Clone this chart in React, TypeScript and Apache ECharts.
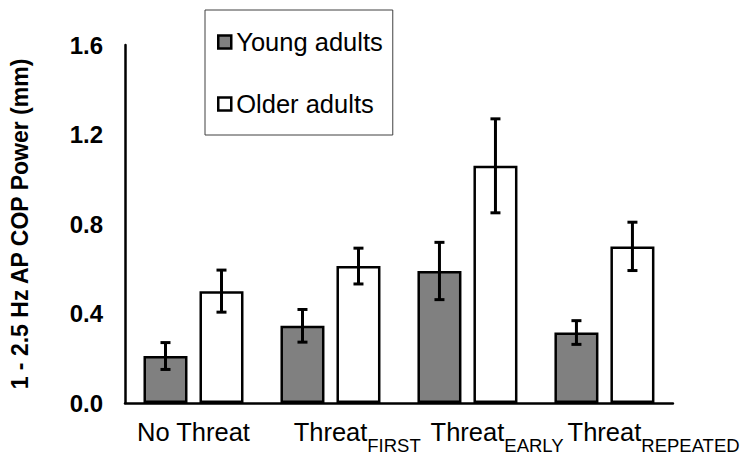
import React, { useEffect, useRef } from "react";
import * as echarts from "echarts";

const mainLabels = ["No Threat", "Threat", "Threat", "Threat"];
const subLabels = ["", "FIRST", "EARLY", "REPEATED"];
const youngValues = [0.21, 0.345, 0.59, 0.315];
const youngErrors = [0.06, 0.073, 0.128, 0.053];
const olderValues = [0.5, 0.612, 1.06, 0.7];
const olderErrors = [0.094, 0.08, 0.21, 0.108];
const yTicks = [0, 0.4, 0.8, 1.2, 1.6];
const seriesNames = ["Young adults", "Older adults"];

const FONT = '"Liberation Sans", Arial, sans-serif';
const SUB_SIZE = 18.5;
const MAIN_SIZE = 25.5;

function measure(text: string, size: number): number {
  const c = document.createElement("canvas").getContext("2d");
  if (!c) return text.length * size * 0.65;
  c.font = `${size}px ${FONT}`;
  return c.measureText(text).width;
}

export default function App() {
  const ref = useRef<HTMLDivElement>(null);
  useEffect(() => {
    if (!ref.current) return;
    const chart = echarts.init(ref.current, undefined, { renderer: "svg" });
    const categories = mainLabels.map((m, i) => (subLabels[i] ? `${m}_${subLabels[i]}` : m));
    const rich: any = {
      a: { fontSize: MAIN_SIZE, fontFamily: FONT, color: "#000", lineHeight: 28, verticalAlign: "top" },
      b: { fontSize: SUB_SIZE, fontFamily: FONT, color: "#000", lineHeight: 20, padding: [17, 0, 0, 0], verticalAlign: "top" },
    };
    subLabels.forEach((s, i) => {
      rich["p" + i] = { width: s ? measure(s, SUB_SIZE) : 0, lineHeight: 28, verticalAlign: "top" };
    });
    const barW = 44;
    const gap = 12;
    const offset = (barW + gap) / 2;
    const errSeries = (vals: number[], errs: number[], dir: number, name: string) => ({
      type: "custom",
      name: name + "_err",
      z: 5,
      silent: true,
      data: vals.map((v, i) => [i, v, errs[i]]),
      encode: { x: 0, y: 1 },
      renderItem: (params: any, api: any) => {
        const i = api.value(0);
        const v = api.value(1);
        const e = api.value(2);
        const hi = api.coord([i, v + e]);
        const lo = api.coord([i, v - e]);
        const x = hi[0] + dir * offset;
        const cap = 5;
        const st = { stroke: "#000", lineWidth: 3 };
        return {
          type: "group",
          children: [
            { type: "line", shape: { x1: x, y1: hi[1], x2: x, y2: lo[1] }, style: st },
            { type: "line", shape: { x1: x - cap, y1: hi[1], x2: x + cap, y2: hi[1] }, style: st },
            { type: "line", shape: { x1: x - cap, y1: lo[1], x2: x + cap, y2: lo[1] }, style: st },
          ],
        };
      },
    });
    chart.setOption({
      animation: false,
      backgroundColor: "#fff",
      textStyle: { fontFamily: FONT },
      grid: { left: 124, right: 65, top: 45, bottom: 55, containLabel: false },
      legend: {
        data: seriesNames,
        orient: "vertical",
        left: 205,
        top: 10,
        backgroundColor: "#fff",
        borderColor: "#404040",
        borderWidth: 1,
        borderRadius: 0,
        padding: [19, 10, 18, 12],
        itemGap: 36,
        itemWidth: 13,
        itemHeight: 13,
        icon: "rect",
        itemStyle: { borderColor: "#000", borderWidth: 2.5 },
        textStyle: { fontSize: MAIN_SIZE, color: "#000", fontFamily: FONT },
      },
      xAxis: {
        type: "category",
        data: categories,
        axisLine: { lineStyle: { color: "#000", width: 2.5 } },
        axisTick: { show: false },
        axisLabel: {
          interval: 0,
          margin: 16,
          formatter: (_v: string, idx: number) =>
            subLabels[idx]
              ? `{p${idx}|}{a|${mainLabels[idx]}}{b|${subLabels[idx]}}`
              : `{a|${mainLabels[idx]}}`,
          rich,
        },
      },
      yAxis: {
        type: "value",
        min: yTicks[0],
        max: yTicks[yTicks.length - 1],
        interval: yTicks[1] - yTicks[0],
        name: "1 - 2.5 Hz AP COP Power (mm)",
        nameLocation: "middle",
        nameRotate: 90,
        nameGap: 94,
        nameTextStyle: { fontSize: 23, fontWeight: "bold", color: "#000", fontFamily: FONT },
        axisLine: { show: true, lineStyle: { color: "#000", width: 2.5 } },
        axisTick: { show: false },
        splitLine: { show: false },
        axisLabel: {
          margin: 22,
          fontSize: 24,
          fontWeight: "bold",
          color: "#000",
          fontFamily: FONT,
          formatter: (v: number) => v.toFixed(1),
        },
      },
      series: [
        {
          type: "bar",
          name: seriesNames[0],
          data: youngValues,
          barWidth: barW,
          barGap: `${(gap / barW) * 100}%`,
          itemStyle: { color: "#808080", borderColor: "#000", borderWidth: 2.5 },
        },
        {
          type: "bar",
          name: seriesNames[1],
          data: olderValues,
          barWidth: barW,
          barGap: `${(gap / barW) * 100}%`,
          itemStyle: { color: "#fff", borderColor: "#000", borderWidth: 2.5 },
        },
        errSeries(youngValues, youngErrors, -1, seriesNames[0]),
        errSeries(olderValues, olderErrors, 1, seriesNames[1]),
      ],
    });
    return () => chart.dispose();
  }, []);
  return <div ref={ref} style={{ width: 742, height: 458, position: "absolute", left: 0, top: 0 }} />;
}
